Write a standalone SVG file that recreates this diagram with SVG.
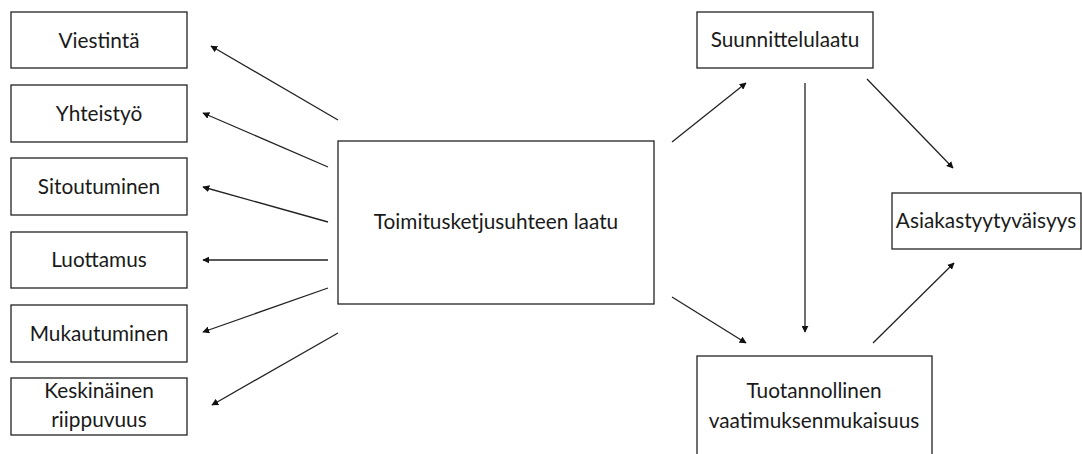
<svg xmlns="http://www.w3.org/2000/svg" width="1082" height="454" viewBox="0 0 1082 454">
<style>
.box{fill:#fff;stroke:#222;stroke-width:1.3}
.t{font-family:"Lato","Liberation Sans",sans-serif;font-size:20.8px;fill:#1a1a1a;text-anchor:middle}
.c{stroke:#222;stroke-width:1.3;fill:none;marker-end:url(#ah)}
</style>
<defs>
<marker id="ah" viewBox="0 0 10 10" refX="9" refY="5" markerWidth="7" markerHeight="7" markerUnits="userSpaceOnUse" orient="auto">
<path d="M0,0 L10,5 L0,10 z" fill="#111"/>
</marker>
</defs>
<rect width="1082" height="454" fill="#fff"/>
<g id="n-viestinta"><rect class="box" x="11" y="12" width="176" height="56"/><text class="t" x="99" y="48">Viestintä</text></g>
<g id="n-yhteistyo"><rect class="box" x="11" y="85" width="176" height="57"/><text class="t" x="99" y="121">Yhteistyö</text></g>
<g id="n-sitoutuminen"><rect class="box" x="11" y="158" width="176" height="57"/><text class="t" x="99" y="194">Sitoutuminen</text></g>
<g id="n-luottamus"><rect class="box" x="11" y="232" width="176" height="56"/><text class="t" x="99" y="267">Luottamus</text></g>
<g id="n-mukautuminen"><rect class="box" x="11" y="305" width="176" height="57"/><text class="t" x="99" y="341">Mukautuminen</text></g>
<g id="n-keskinainen"><rect class="box" x="11" y="378" width="176" height="57"/><text class="t" x="99" y="398">Keskinäinen</text><text class="t" x="99" y="427">riippuvuus</text></g>
<g id="n-toimitus"><rect class="box" x="338" y="141" width="316" height="163"/><text class="t" x="496" y="229">Toimitusketjusuhteen laatu</text></g>
<g id="n-suunnittelu"><rect class="box" x="697" y="12" width="176" height="56"/><text class="t" x="785" y="47">Suunnittelulaatu</text></g>
<g id="n-asiakas"><rect class="box" x="892" y="193" width="189" height="56"/><text class="t" x="986" y="228">Asiakastyytyväisyys</text></g>
<g id="n-tuotannollinen"><rect class="box" x="697" y="356" width="235" height="110"/><text class="t" x="814" y="398">Tuotannollinen</text><text class="t" x="814" y="428">vaatimuksenmukaisuus</text></g>
<g id="connectors">
<line class="c" x1="338" y1="120" x2="211" y2="46"/>
<line class="c" x1="328" y1="167" x2="203" y2="113"/>
<line class="c" x1="328" y1="222" x2="203" y2="187"/>
<line class="c" x1="328" y1="260" x2="203" y2="260"/>
<line class="c" x1="328" y1="288" x2="203" y2="332"/>
<line class="c" x1="338" y1="333" x2="212" y2="405"/>
<line class="c" x1="672" y1="142" x2="746" y2="83"/>
<line class="c" x1="672" y1="297" x2="746" y2="343"/>
<line class="c" x1="805" y1="83" x2="805" y2="332"/>
<line class="c" x1="867" y1="79" x2="953" y2="168"/>
<line class="c" x1="873" y1="343" x2="954" y2="263"/>
</g>
</svg>
